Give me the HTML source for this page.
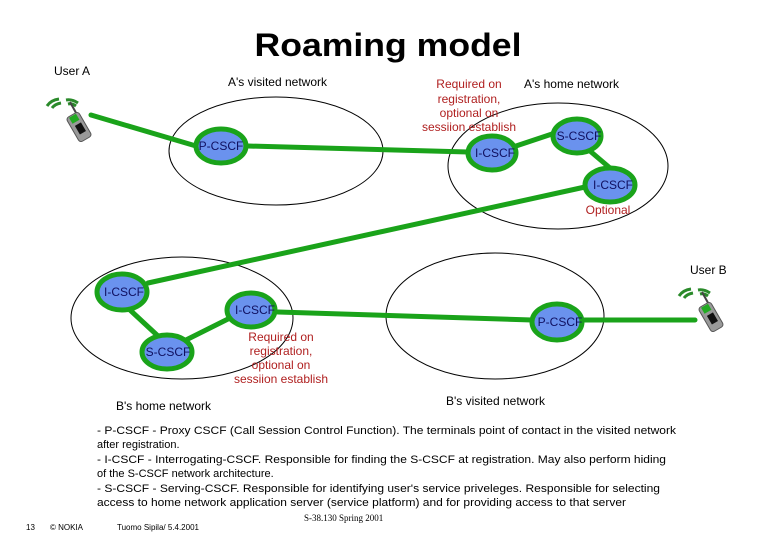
<!DOCTYPE html>
<html><head><meta charset="utf-8"><style>
html,body{margin:0;padding:0;background:#fff;}
svg{display:block;font-family:"Liberation Sans",Arial,sans-serif;}
</style></head><body>
<svg width="780" height="540" viewBox="0 0 780 540" xmlns="http://www.w3.org/2000/svg">
<rect width="780" height="540" fill="#fff"/>
<text x="388" y="56" font-size="32" font-weight="bold" text-anchor="middle" textLength="267" lengthAdjust="spacingAndGlyphs">Roaming model</text>

<g fill="none" stroke="#000" stroke-width="1">
<ellipse cx="276" cy="151" rx="107" ry="54"/>
<ellipse cx="558" cy="166" rx="110" ry="63"/>
<ellipse cx="182" cy="318" rx="111" ry="61"/>
<ellipse cx="495" cy="316" rx="109" ry="63"/>
</g>

<g stroke="#1aa31a" stroke-width="5" fill="none" stroke-linecap="round">
<line x1="91" y1="115" x2="196" y2="146"/>
<line x1="248" y1="146" x2="468" y2="152"/>
<line x1="516" y1="146" x2="552" y2="134"/>
<line x1="590" y1="151" x2="610" y2="168"/>
<line x1="130" y1="310" x2="158" y2="336"/>
<line x1="186" y1="340" x2="230" y2="318"/>
<line x1="278" y1="312" x2="532" y2="320"/>
<line x1="584" y1="320" x2="695" y2="320"/>
<line x1="585" y1="187" x2="148" y2="283"/>
</g>

<g fill="#6a92ee" stroke="#1aa31a" stroke-width="5">
<ellipse cx="221" cy="146" rx="25" ry="17"/>
<ellipse cx="492" cy="153" rx="24" ry="17"/>
<ellipse cx="577" cy="136" rx="24" ry="17"/>
<ellipse cx="610" cy="185" rx="25" ry="17"/>
<ellipse cx="122" cy="292" rx="25" ry="18"/>
<ellipse cx="251" cy="310" rx="24" ry="17"/>
<ellipse cx="167" cy="352" rx="25" ry="17"/>
<ellipse cx="557" cy="322" rx="25" ry="18"/>
</g>
<g font-size="12" fill="#101060" text-anchor="middle">
<text x="221" y="150">P-CSCF</text>
<text x="495" y="157">I-CSCF</text>
<text x="579" y="140">S-CSCF</text>
<text x="613" y="189">I-CSCF</text>
<text x="124" y="296">I-CSCF</text>
<text x="255" y="314">I-CSCF</text>
<text x="168" y="356">S-CSCF</text>
<text x="560" y="326">P-CSCF</text>
</g>

<g font-size="12" fill="#000">
<text x="54" y="75">User A</text>
<text x="228" y="86">A's visited network</text>
<text x="524" y="88">A's home network</text>
<text x="690" y="274">User B</text>
<text x="116" y="410">B's home network</text>
<text x="446" y="405">B's visited network</text>
</g>
<g font-size="12" fill="#b02020" text-anchor="middle">
<text x="469" y="88">Required on</text>
<text x="469" y="103">registration,</text>
<text x="469" y="117">optional on</text>
<text x="469" y="131">sessiion establish</text>
<text x="608" y="214">Optional</text>
<text x="281" y="341">Required on</text>
<text x="281" y="355">registration,</text>
<text x="281" y="369">optional on</text>
<text x="281" y="383">sessiion establish</text>
</g>

<g>
<path d="M47 106 q4-6 12-7 M52 108 q3-4 9-5 M66 100 q6-1 12 3 M68 104 q4-1 8 2" stroke="#2a8a2a" stroke-width="3" fill="none"/>
<path d="M70 102 l10 18" stroke="#444" stroke-width="2"/>
<rect x="72" y="113" width="14" height="28" rx="3" fill="#999" stroke="#555" transform="rotate(-30 79 127)"/>
<rect x="75" y="114" width="8" height="7" fill="#22aa22" transform="rotate(-30 79 127)"/>
<rect x="76" y="124" width="7" height="10" fill="#111" transform="rotate(-30 79 127)"/>
</g>
<g transform="translate(632,190)">
<path d="M47 106 q4-6 12-7 M52 108 q3-4 9-5 M66 100 q6-1 12 3 M68 104 q4-1 8 2" stroke="#2a8a2a" stroke-width="3" fill="none"/>
<path d="M70 102 l10 18" stroke="#444" stroke-width="2"/>
<rect x="72" y="113" width="14" height="28" rx="3" fill="#999" stroke="#555" transform="rotate(-30 79 127)"/>
<rect x="75" y="114" width="8" height="7" fill="#22aa22" transform="rotate(-30 79 127)"/>
<rect x="76" y="124" width="7" height="10" fill="#111" transform="rotate(-30 79 127)"/>
</g>

<g font-size="11" fill="#000">
<text x="97" y="434" textLength="579" lengthAdjust="spacingAndGlyphs">- P-CSCF - Proxy CSCF (Call Session Control Function). The terminals point of contact in the visited network</text>
<text x="97" y="448">after registration.</text>
<text x="97" y="463" textLength="569" lengthAdjust="spacingAndGlyphs">- I-CSCF - Interrogating-CSCF. Responsible for finding the S-CSCF at registration. May also perform hiding</text>
<text x="97" y="477">of the S-CSCF network architecture.</text>
<text x="97" y="492" textLength="563" lengthAdjust="spacingAndGlyphs">- S-CSCF - Serving-CSCF. Responsible for identifying user's service priveleges. Responsible for selecting</text>
<text x="97" y="506" textLength="529" lengthAdjust="spacingAndGlyphs">access to home network application server (service platform) and for providing access to that server</text>
</g>
<text x="304" y="521" font-size="9" font-family="Liberation Serif,serif">S-38.130 Spring 2001</text>
<g font-size="8" fill="#000">
<text x="26" y="530">13</text>
<text x="50" y="530">© NOKIA</text>
<text x="117" y="530">Tuomo Sipila/ 5.4.2001</text>
</g>
</svg>
</body></html>
